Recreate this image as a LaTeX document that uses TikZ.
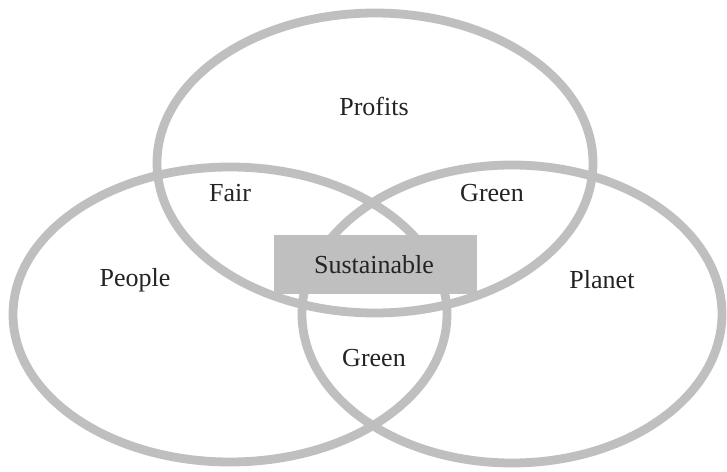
\documentclass[tikz,border=0pt]{standalone}
\usepackage{fontspec}
\setmainfont{Liberation Serif}
\definecolor{ringgray}{RGB}{191,191,191}
\definecolor{labelgray}{RGB}{35,35,35}

\begin{document}
\begin{tikzpicture}[
  ring/.style={draw=ringgray, line width=5pt},
  label/.style={text=labelgray, font=\fontsize{14.8}{17}\selectfont, inner sep=0pt}]
  \filldraw[fill=white, draw=none] (0cm,0cm) rectangle (14.54cm,-9.44cm);
  \draw[ring] (7.5cm,-3.26cm) ellipse [x radius=4.36cm, y radius=3cm];
  \draw[ring] (4.6cm,-6.29cm) ellipse [x radius=4.34cm, y radius=2.95cm];
  \draw[ring] (10.24cm,-6.28cm) ellipse [x radius=4.2cm, y radius=2.98cm];
  \filldraw[fill=ringgray, draw=none] (5.48cm,-4.7cm) rectangle (9.54cm,-5.88cm);
  \node[label] (profits) at (7.48cm,-2.12cm) {Profits};
  \node[label] (fair) at (4.6cm,-3.86cm) {Fair};
  \node[label] (greentop) at (9.84cm,-3.86cm) {Green};
  \node[label] (people) at (2.7cm,-5.6cm) {People};
  \node[label] (planet) at (12.04cm,-5.6cm) {Planet};
  \node[label] (sustainable) at (7.48cm,-5.3cm) {Sustainable};
  \node[label] (greenlow) at (7.48cm,-7.16cm) {Green};
\end{tikzpicture}
\end{document}
